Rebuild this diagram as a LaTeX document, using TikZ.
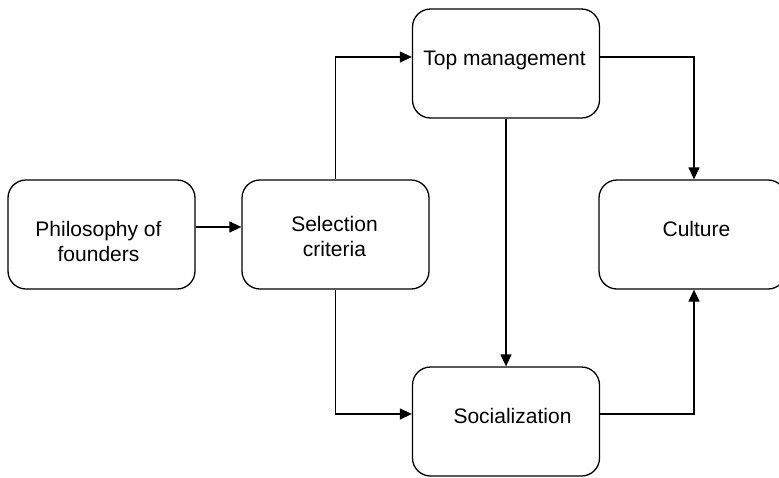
\documentclass[tikz,border=0pt]{standalone}
\usepackage{fontspec}
\setmainfont{Liberation Sans}
\usetikzlibrary{arrows.meta}
\tikzset{
  box/.style={draw=black, line width=1.3pt, rounded corners=18pt, minimum width=187pt, minimum height=109pt, inner sep=0pt},
  txt/.style={anchor=base, inner sep=0pt, align=center, font=\fontsize{21}{25}\selectfont},
  arr/.style={draw=black, line width=1.3pt, -{Triangle[length=12pt,width=11pt]}},
}
\begin{document}
\begin{tikzpicture}[x=1pt,y=-1pt]
\useasboundingbox (0,0) rectangle (779,477);
\fill[white] (0,0) rectangle (779,477);
\node[box] (phil) at (101.5,234.5) {};
\node[box] (sel) at (335.5,234.5) {};
\node[box] (top) at (506,63.5) {};
\node[box] (cult) at (692.5,234.5) {};
\node[box] (soc) at (506,421.5) {};
\node[txt] (philt) at (98.5,261) {Philosophy of\\founders};
\node[txt] (selt) at (334.5,256) {Selection\\criteria};
\node[txt] (topt) at (504.5,65) {Top management};
\node[txt] (cultt) at (696.5,236) {Culture};
\node[txt] (soct) at (512.5,423) {Socialization};
\draw[arr] ([yshift=7.5pt]phil.east) -- ([yshift=7.5pt]sel.west);
\draw[arr] (sel.north) |- ([yshift=6.5pt]top.west);
\draw[arr] (sel.south) |- ([yshift=7.5pt]soc.west);
\draw[arr] (top.south) -- (soc.north);
\draw[arr] ([yshift=6.5pt]top.east) -| ([xshift=1.5pt]cult.north);
\draw[arr] ([yshift=7.5pt]soc.east) -| ([xshift=1.5pt]cult.south);
\end{tikzpicture}
\end{document}
